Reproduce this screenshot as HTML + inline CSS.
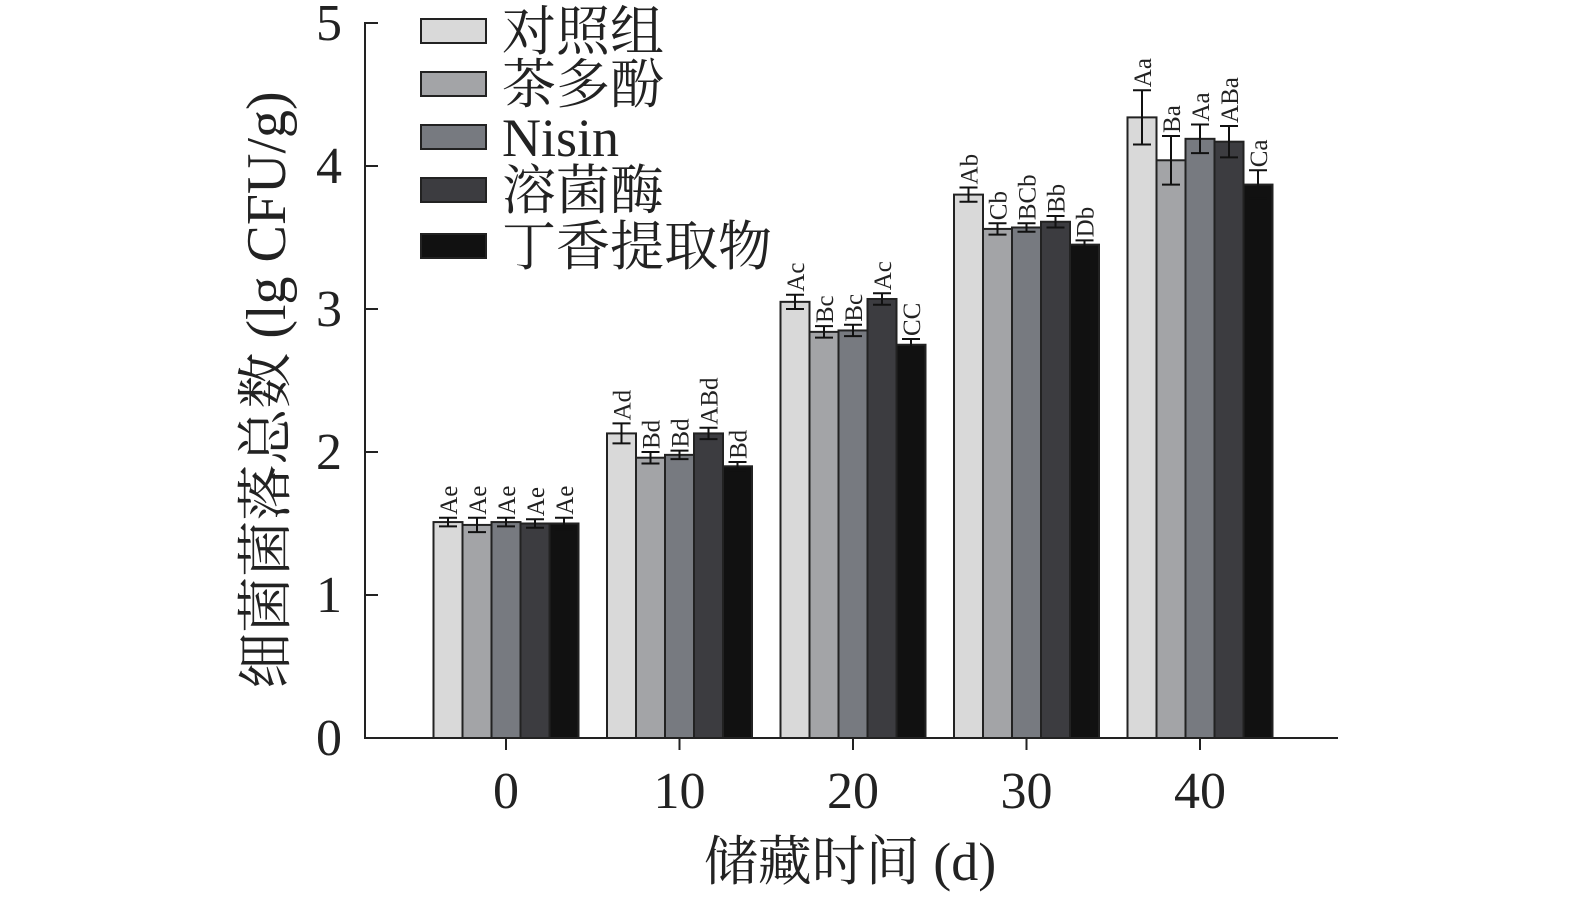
<!DOCTYPE html>
<html><head><meta charset="utf-8"><style>
body{margin:0;background:#fff;}
svg text{font-family:"Liberation Serif","Noto Serif CJK SC",serif;fill:#222;}
</style></head><body>
<svg id="chart" width="1575" height="901" xmlns="http://www.w3.org/2000/svg"></svg>
<script>
const categories=["0","10","20","30","40"];
const seriesNames=["对照组","茶多酚","Nisin","溶菌酶","丁香提取物"];
const colors=["#d9d9d9","#a3a4a7","#777a80","#3c3c40","#111111"];
const s0=[1.51,1.49,1.51,1.50,1.50];
const s10=[2.13,1.96,1.98,2.13,1.90];
const s20=[3.05,2.84,2.85,3.07,2.75];
const s30=[3.80,3.56,3.57,3.61,3.45];
const s40=[4.34,4.04,4.19,4.17,3.87];
const values=[s0,s10,s20,s30,s40];
const e0=[0.03,0.05,0.03,0.03,0.04];
const e10=[0.07,0.04,0.03,0.04,0.03];
const e20=[0.05,0.04,0.04,0.04,0.04];
const e30=[0.05,0.04,0.03,0.04,0.03];
const e40=[0.19,0.17,0.1,0.11,0.1];
const errors=[e0,e10,e20,e30,e40];
const lab0=["Ae","Ae","Ae","Ae","Ae"];
const lab10=["Ad","Bd","Bd","ABd","Bd"];
const lab20=["Ac","Bc","Bc","Ac","CC"];
const lab30=["Ab","Cb","BCb","Bb","Db"];
const lab40=["Aa","Ba","Aa","ABa","Ca"];
const letters=[lab0,lab10,lab20,lab30,lab40];
const yTicks=[0,1,2,3,4,5];

const svg=document.getElementById('chart');
const NS="http://www.w3.org/2000/svg";
function el(t,a,p){const e=document.createElementNS(NS,t);for(const k in a)e.setAttribute(k,a[k]);(p||svg).appendChild(e);return e;}
const y=v=>738-143*v;
const xc=i=>506+173.5*i;
const bw=29;

let ax=el('line',{x1:365,y1:22,x2:365,y2:739,stroke:'#222','stroke-width':2});


ax=el('line',{x1:364,y1:738,x2:1338,y2:738,stroke:'#222','stroke-width':2});


yTicks.forEach(t=>{
  el('line',{x1:365,y1:y(t),x2:378,y2:y(t),stroke:'#222','stroke-width':2});
  const tx=el('text',{x:342,y:y(t)+17,'font-size':52,'text-anchor':'end'});
  tx.textContent=t;
  
  
});
categories.forEach((c,i)=>{
  el('line',{x1:xc(i),y1:738,x2:xc(i),y2:750,stroke:'#222','stroke-width':2});
  const tx=el('text',{x:xc(i),y:808,'font-size':52,'text-anchor':'middle'});
  tx.textContent=c;
  
  
  values[i].forEach((v,j)=>{
    const x0=xc(i)+(j-2.5)*bw;
    const r=el('rect',{x:x0,y:y(v),width:bw,height:738-y(v),fill:colors[j],stroke:'#222','stroke-width':2});
    
    
    const m=x0+bw/2,e=errors[i][j];
    el('line',{x1:m,y1:y(v+e),x2:m,y2:y(v-e),stroke:'#111','stroke-width':2});
    el('line',{x1:m-9,y1:y(v+e),x2:m+9,y2:y(v+e),stroke:'#111','stroke-width':2});
    el('line',{x1:m-9,y1:y(v-e),x2:m+9,y2:y(v-e),stroke:'#111','stroke-width':2});
    const ty=y(v+e)-3;
    const lt=el('text',{x:0,y:0,'font-size':25,transform:`translate(${m+9},${ty}) rotate(-90)`});
    lt.textContent=letters[i][j];
    
    
  });
});
seriesNames.forEach((n,j)=>{
  const cy=[31,84,137,190,246][j];
  const r=el('rect',{x:421,y:cy-12,width:65,height:24,fill:colors[j],stroke:'#222','stroke-width':2});
  
  
  const t=el('text',{x:502,y:cy+19,'font-size':54});
  t.textContent=n;
  
  
});
let t=el('text',{x:850,y:880,'font-size':54,'text-anchor':'middle'});
t.textContent='储藏时间 (d)';


t=el('text',{x:0,y:0,'font-size':56,'text-anchor':'middle',transform:'translate(285,390) rotate(-90)'});
t.textContent='细菌菌落总数 (lg CFU/g)';


</script>
</body></html>
